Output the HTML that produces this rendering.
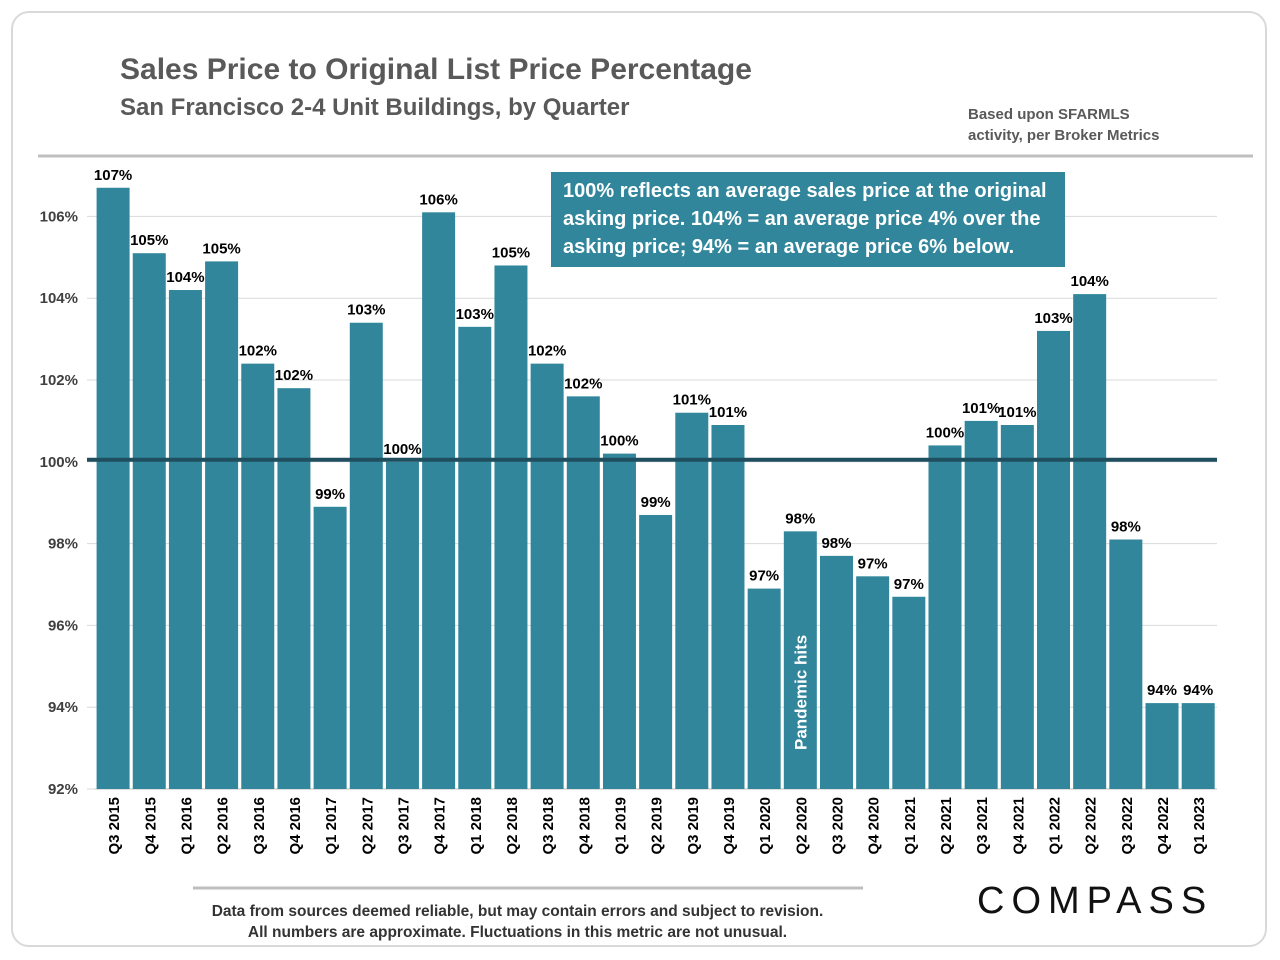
<!DOCTYPE html>
<html><head><meta charset="utf-8"><style>
body{margin:0;width:1280px;height:960px;background:#fff;font-family:"Liberation Sans",sans-serif;overflow:hidden;position:relative}
.frame{position:absolute;left:11px;top:11px;width:1256px;height:936px;border:2px solid #d9d9d9;border-radius:18px;box-sizing:border-box}
.t{position:absolute;color:#595959;font-weight:bold}
</style></head><body>
<div class="frame"></div>
<div class="t" style="left:120px;top:53px;font-size:30px">Sales Price to Original List Price Percentage</div>
<div class="t" style="left:120px;top:94px;font-size:24px">San Francisco 2-4 Unit Buildings, by Quarter</div>
<div class="t" style="left:968px;top:104px;font-size:15px;line-height:21px">Based upon SFARMLS<br>activity, per Broker Metrics</div>
<svg id="c" width="1280" height="960" style="position:absolute;left:0;top:0"></svg>
<script>
const categories=["Q3 2015","Q4 2015","Q1 2016","Q2 2016","Q3 2016","Q4 2016","Q1 2017","Q2 2017","Q3 2017","Q4 2017","Q1 2018","Q2 2018","Q3 2018","Q4 2018","Q1 2019","Q2 2019","Q3 2019","Q4 2019","Q1 2020","Q2 2020","Q3 2020","Q4 2020","Q1 2021","Q2 2021","Q3 2021","Q4 2021","Q1 2022","Q2 2022","Q3 2022","Q4 2022","Q1 2023"];
const values=[106.7,105.1,104.2,104.9,102.4,101.8,98.9,103.4,100.0,106.1,103.3,104.8,102.4,101.6,100.2,98.7,101.2,100.9,96.9,98.3,97.7,97.2,96.7,100.4,101.0,100.9,103.2,104.1,98.1,94.1,94.1];
const yTicks=[92,94,96,98,100,102,104,106];
const NS="http://www.w3.org/2000/svg";
const svg=document.getElementById('c');
const x0=95,step=36.17,bw=33,yBase=789,pxPer=40.9;
const y=v=>yBase-(v-92)*pxPer;
const xc=i=>x0+step*i+step/2;
function mk(t,a,p){const e=document.createElementNS(NS,t);for(const k in a)e.setAttribute(k,a[k]);(p||svg).appendChild(e);return e;}
mk('line',{x1:38,y1:156,x2:1253,y2:156,stroke:'#bfbfbf','stroke-width':3});
mk('line',{x1:193,y1:888,x2:863,y2:888,stroke:'#bfbfbf','stroke-width':3});
yTicks.forEach(v=>{
 const g=mk('line',{x1:87,y1:y(v),x2:1217,y2:y(v),stroke:'#d9d9d9','stroke-width':1});
 
 
 const t=mk('text',{x:78,y:y(v)+5,'text-anchor':'end','font-size':15,'font-weight':'bold',fill:'#404040'});
 t.textContent=v+'%';
 
 
});
mk('line',{x1:95,y1:789,x2:1217,y2:789,stroke:'#bfbfbf','stroke-width':1});
values.forEach((v,i)=>{
 const r=mk('rect',{x:xc(i)-bw/2,y:y(v),width:bw,height:yBase-y(v),fill:'#31869b'});
 
 
 const t=mk('text',{x:xc(i),y:y(v)-8,'text-anchor':'middle','font-size':15,'font-weight':'bold',fill:'#000'});
 t.textContent=Math.round(v)+'%';
 
 
 const c=mk('text',{transform:`translate(${xc(i)+6},797) rotate(-90)`,'text-anchor':'end','font-size':15,'font-weight':'bold',fill:'#000'});
 c.textContent=categories[i];
 
 
});
const ln=mk('line',{x1:87,y1:y(100)-2,x2:1217,y2:y(100)-2,stroke:'#1f4e5f','stroke-width':4});


const pi=categories.indexOf("Q2 2020");
const ph=mk('text',{transform:`translate(${xc(pi)+6},750) rotate(-90)`,'font-size':17,'font-weight':'bold',fill:'#fff'});
ph.textContent='Pandemic hits';


</script>
<div style="position:absolute;left:551px;top:172px;width:514px;height:95px;background:#31869b;color:#fff;font-weight:bold;font-size:20px;line-height:28px;padding:5px 12px;box-sizing:border-box">100% reflects an average sales price at the original asking price. 104% = an average price 4% over the asking price; 94% = an average price 6% below.</div>
<div style="position:absolute;left:150px;top:901px;width:735px;text-align:center;font-size:15.5px;font-weight:bold;line-height:21px;color:#333">Data from sources deemed reliable, but may contain errors and subject to revision.<br>All numbers are approximate. Fluctuations in this metric are not unusual.</div>
<div style="position:absolute;left:977px;top:880px;font-size:38px;letter-spacing:7px;color:#111">COMPASS</div>
</body></html>
